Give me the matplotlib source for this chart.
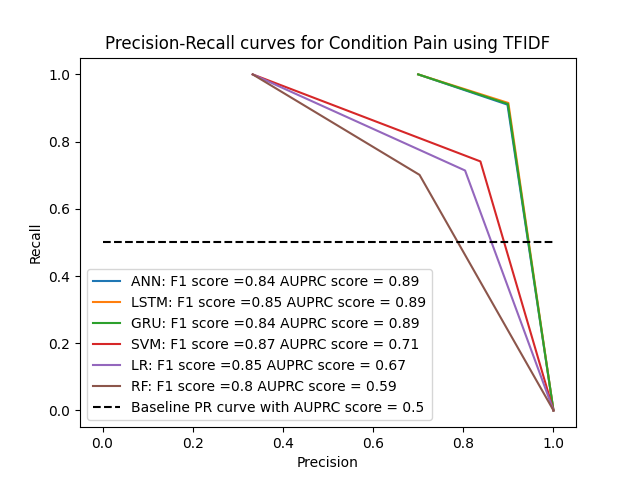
import matplotlib
matplotlib.use("Agg")
import matplotlib.pyplot as plt

# precision / recall points for each model
labels = [
    "ANN: F1 score =0.84 AUPRC score = 0.89",
    "LSTM: F1 score =0.85 AUPRC score = 0.89",
    "GRU: F1 score =0.84 AUPRC score = 0.89",
    "SVM: F1 score =0.87 AUPRC score = 0.71",
    "LR: F1 score =0.85 AUPRC score = 0.67",
    "RF: F1 score =0.8 AUPRC score = 0.59",
]
precisions = [
    [0.70, 0.898, 1.0],
    [0.70, 0.900, 1.0],
    [0.70, 0.899, 1.0],
    [0.333, 0.838, 1.0],
    [0.333, 0.804, 1.0],
    [0.333, 0.703, 1.0],
]
recalls = [
    [1.0, 0.91, 0.0],
    [1.0, 0.915, 0.0],
    [1.0, 0.912, 0.0],
    [1.0, 0.741, 0.0],
    [1.0, 0.714, 0.0],
    [1.0, 0.701, 0.0],
]
baseline_x = [0.0, 1.0]
baseline_y = [0.5, 0.5]
baseline_label = "Baseline PR curve with AUPRC score = 0.5"

fig, ax = plt.subplots(figsize=(6.4, 4.8), dpi=100)
for p, r, lab in zip(precisions, recalls, labels):
    ax.plot(p, r, label=lab)
ax.plot(baseline_x, baseline_y, "k--", label=baseline_label)

ax.set_title("Precision-Recall curves for Condition Pain using TFIDF")
ax.set_xlabel("Precision")
ax.set_ylabel("Recall")
ax.legend(loc="lower left")
fig.savefig("out.png")
